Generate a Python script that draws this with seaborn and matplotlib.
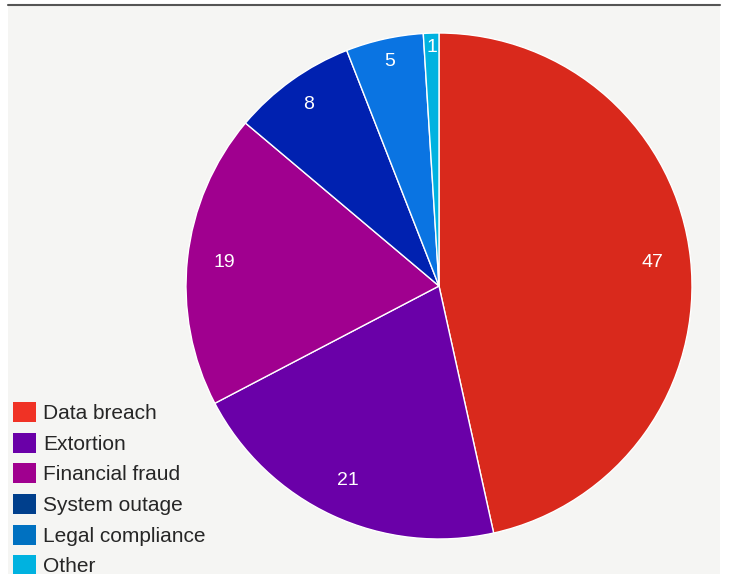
import matplotlib
matplotlib.use("Agg")
import matplotlib.pyplot as plt
from matplotlib.patches import Patch
from matplotlib.lines import Line2D
import numpy as np
import seaborn as sns

sns.set_style("white")
plt.rcParams['font.family'] = ['Liberation Sans', 'DejaVu Sans']

# 数据
categories = ['Data breach', 'Extortion', 'Financial fraud', 'System outage',
              'Legal compliance', 'Other']
values = [47, 21, 19, 8, 5, 1]
pie_colors = ['#d9291c', '#6a00a8', '#a0008f', '#0021b0', '#0a74e2', '#00b2e0']
legend_colors = ['#f03225', '#6a00a8', '#a0008f', '#003f8c', '#0071c1', '#00b2e0']
# 小扇区的标签更靠外
label_dist = [0.85, 0.85, 0.855, 0.885, 0.91, 0.945]

W, H = 733, 574
fig = plt.figure(figsize=(W / 100, H / 100), dpi=100)
fig.patch.set_facecolor('white')

# 背景面板
bg = fig.add_axes([8 / W, 0, 712 / W, 568 / H])
bg.set_facecolor('#f5f5f3')
bg.set_xticks([])
bg.set_yticks([])
for s in bg.spines.values():
    s.set_visible(False)

# 顶部横线
fig.add_artist(Line2D([8 / W, 720 / W], [1 - 5 / H, 1 - 5 / H],
                      color='#555555', lw=1.5, transform=fig.transFigure))

# 饼图
cx, cy, r = 439, 288, 253
ax = fig.add_axes([(cx - r) / W, (cy - r) / H, 2 * r / W, 2 * r / H])
ax.set_facecolor('none')
wedges, texts = ax.pie(values, colors=pie_colors, startangle=90, counterclock=False,
                       labels=[str(v) for v in values], labeldistance=1.0,
                       wedgeprops=dict(edgecolor='white', linewidth=1),
                       textprops=dict(color='white', fontsize=14))
for t, w, d in zip(texts, wedges, label_dist):
    ang = np.deg2rad((w.theta1 + w.theta2) / 2)
    t.set_position((d * np.cos(ang), d * np.sin(ang)))
    t.set_ha('center')
    t.set_va('center')
ax.set_xlim(-1, 1)
ax.set_ylim(-1, 1)
ax.set_aspect('equal')
ax.axis('off')

# 图例
handles = [Patch(facecolor=c, edgecolor='none') for c in legend_colors]
fig.legend(handles, categories, loc='upper left',
           bbox_to_anchor=(13 / W, 1 - 402 / H), frameon=False,
           fontsize=15, borderpad=0, borderaxespad=0,
           handlelength=1.1, handleheight=1.1, handletextpad=0.35,
           labelspacing=0.46)

plt.savefig('out.png', dpi=100)
plt.close()
